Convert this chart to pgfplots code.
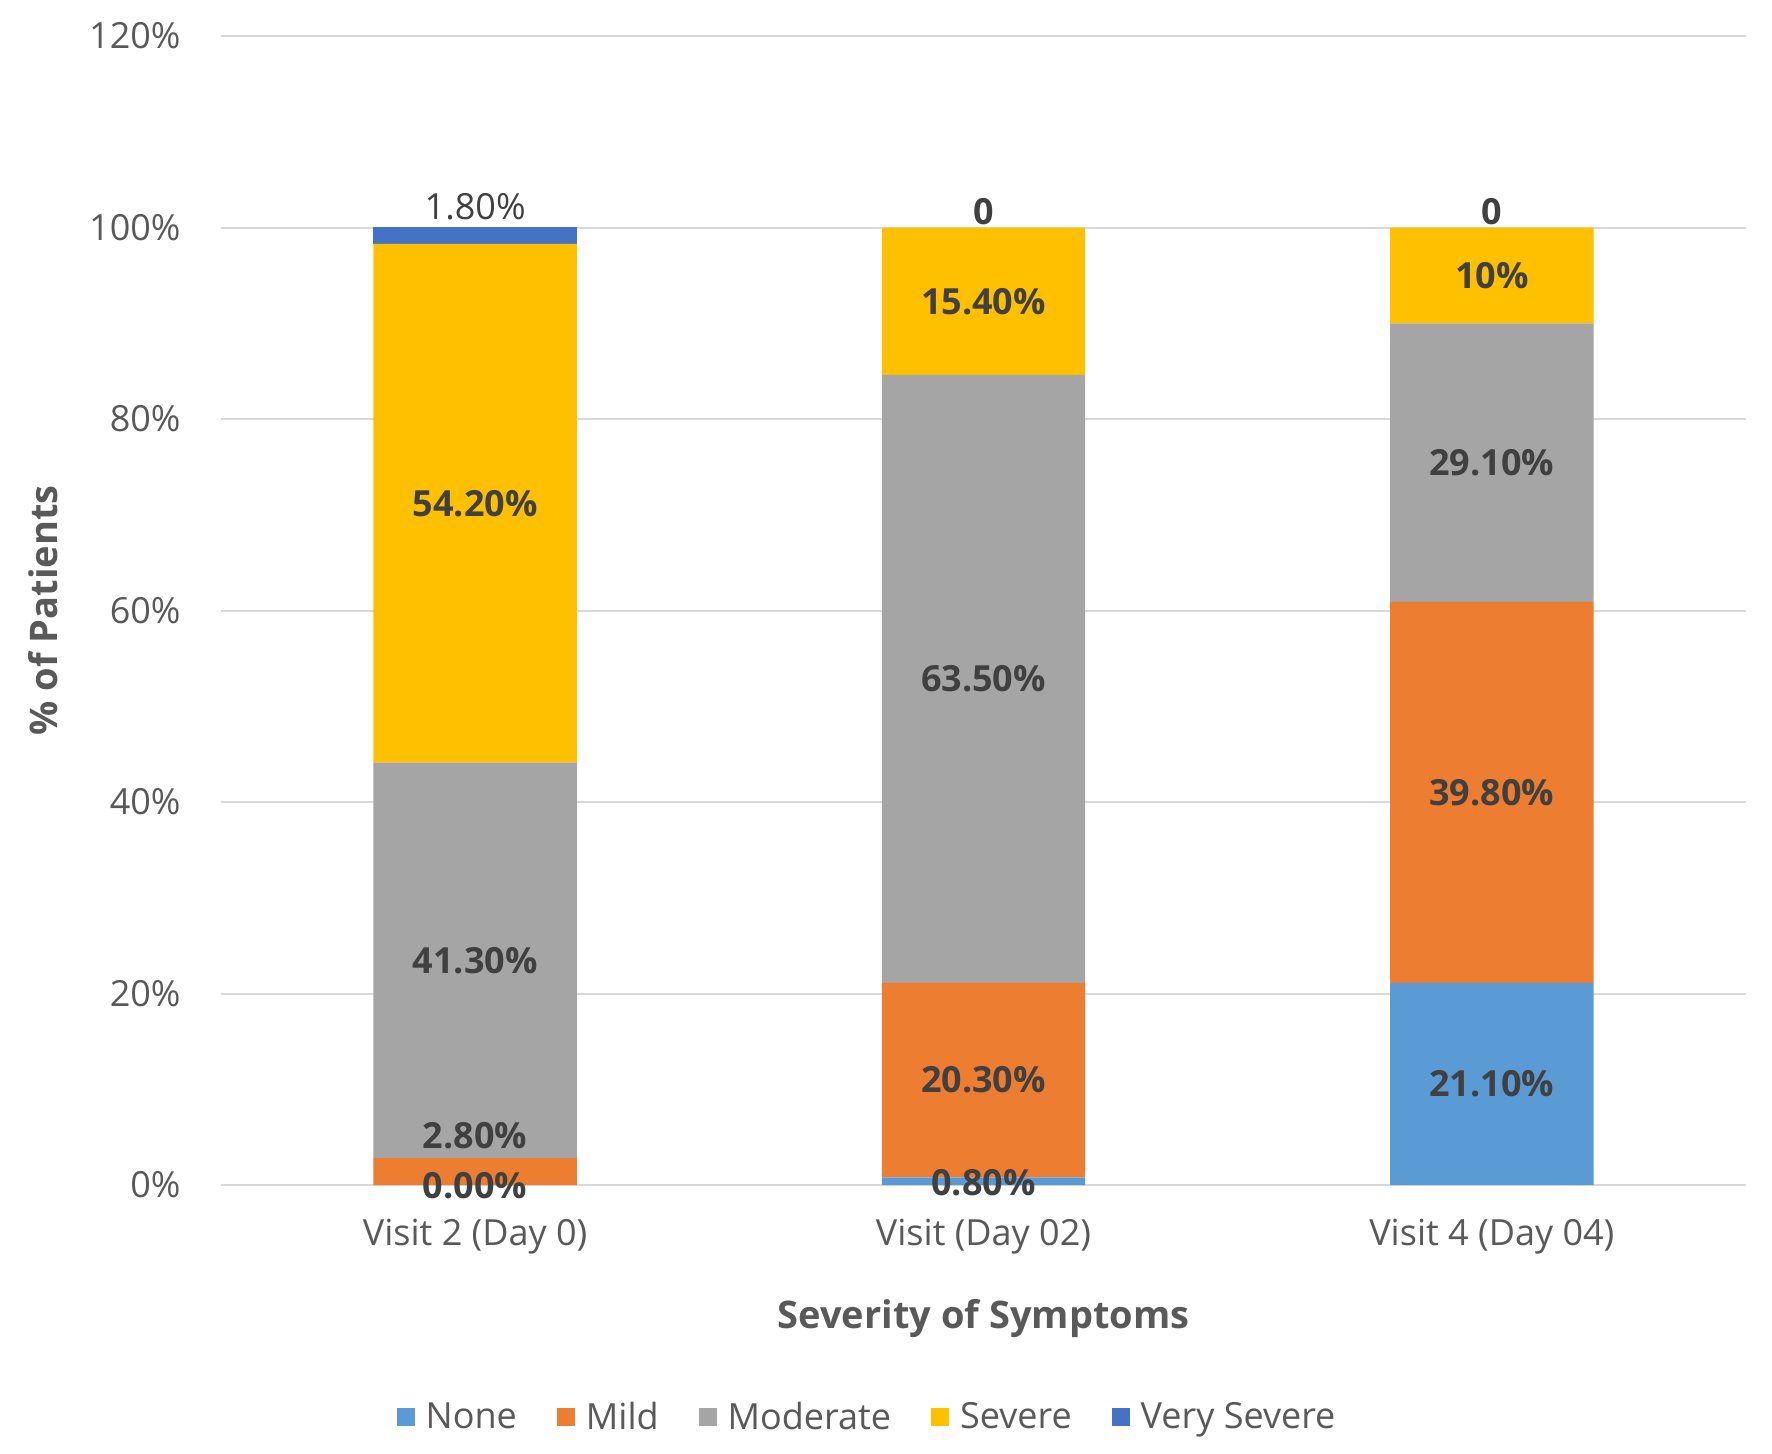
\documentclass[border=0pt]{standalone}
\usepackage{pgfplots}
\pgfplotsset{compat=1.18}
\usepackage{fontspec}
\setmainfont{Open Sans}
\definecolor{cNone}{HTML}{5B9BD5}
\definecolor{cMild}{HTML}{ED7D31}
\definecolor{cMod}{HTML}{A5A5A5}
\definecolor{cSev}{HTML}{FFC000}
\definecolor{cVS}{HTML}{4472C4}
\definecolor{tick}{HTML}{595959}
\definecolor{lab}{HTML}{404040}
\definecolor{grid}{HTML}{D9D9D9}
\pgfplotsset{sqlegend/.style={legend image code/.code={\fill[##1] (0pt,-4.5pt) rectangle (9pt,4.5pt);}}}
\tikzset{lb/.style={font=\fontsize{18}{22}\selectfont\bfseries, text=lab, inner sep=0pt},
         lr/.style={font=\fontsize{18}{22}\selectfont, text=lab, inner sep=0pt}}
\begin{document}
\begin{tikzpicture}
\path[use as bounding box] (-110.5pt,-134pt) rectangle (775.5pt,592.5pt);
\begin{axis}[
  at={(0,0)}, anchor=south west,
  scale only axis, width=762.5pt, height=574.5pt,
  ybar stacked, bar width=0.4,
  xmin=-0.5, xmax=2.5, ymin=0, ymax=120,
  xtick={0,1,2},
  xticklabels={Visit 2 (Day 0),Visit (Day 02),Visit 4 (Day 04)},
  ytick={0,20,40,60,80,100,120},
  yticklabels={0\%,20\%,40\%,60\%,80\%,100\%,120\%},
  major tick length=0pt,
  axis line style={draw=none},
  ymajorgrids, grid style={color=grid, line width=1pt},
  ticklabel style={font=\fontsize{18}{22}\selectfont, text=tick},
  yticklabel style={anchor=east, inner sep=0pt, xshift=-20pt},
  xticklabel style={anchor=north, inner sep=0pt, yshift=-17pt},
  xlabel={Severity of Symptoms},
  ylabel={\% of Patients},
  label style={font=\fontsize{19}{23}\selectfont\bfseries, text=tick},
  xlabel style={at={(axis description cs:0.5,-0.1166)}, anchor=center},
  ylabel style={at={(axis description cs:-0.1168,0.5)}, anchor=center},
  legend columns=5,
  legend style={at={(axis description cs:0.4230,-0.2019)}, anchor=center, draw=none,
    font=\fontsize{18}{22}\selectfont, text=tick, inner sep=0pt,
    nodes={inner sep=0pt},
    /tikz/every odd column/.append style={column sep=5.5pt},
    /tikz/every even column/.append style={column sep=20pt}},
  legend cell align=left,
  after end axis/.code={
    \node[lr] at (axis cs:0,102.2) {1.80\%};
    \node[lb] at (axis cs:0,71.2) {54.20\%};
    \node[lb] at (axis cs:0,23.45) {41.30\%};
    \node[lb] at (axis cs:0,5.1) {2.80\%};
    \node[lb] at (axis cs:0,-0.1) {0.00\%};
    \node[lb] at (axis cs:1,101.7) {0};
    \node[lb] at (axis cs:1,92.3) {15.40\%};
    \node[lb] at (axis cs:1,52.85) {63.50\%};
    \node[lb] at (axis cs:1,10.95) {20.30\%};
    \node[lb] at (axis cs:1,0.25) {0.80\%};
    \node[lb] at (axis cs:2,101.7) {0};
    \node[lb] at (axis cs:2,95) {10\%};
    \node[lb] at (axis cs:2,75.45) {29.10\%};
    \node[lb] at (axis cs:2,41) {39.80\%};
    \node[lb] at (axis cs:2,10.55) {21.10\%};
  },
]
\addplot[sqlegend, fill=cNone, draw=none] coordinates {(0,0) (1,0.8) (2,21.1)};
\addplot[sqlegend, fill=cMild, draw=none] coordinates {(0,2.8) (1,20.3) (2,39.8)};
\addplot[sqlegend, fill=cMod, draw=none] coordinates {(0,41.3) (1,63.5) (2,29.1)};
\addplot[sqlegend, fill=cSev, draw=none] coordinates {(0,54.2) (1,15.4) (2,10)};
\addplot[sqlegend, fill=cVS, draw=none] coordinates {(0,1.8) (1,0) (2,0)};
\legend{None,Mild,Moderate,Severe,Very Severe}
\end{axis}
\end{tikzpicture}
\end{document}
